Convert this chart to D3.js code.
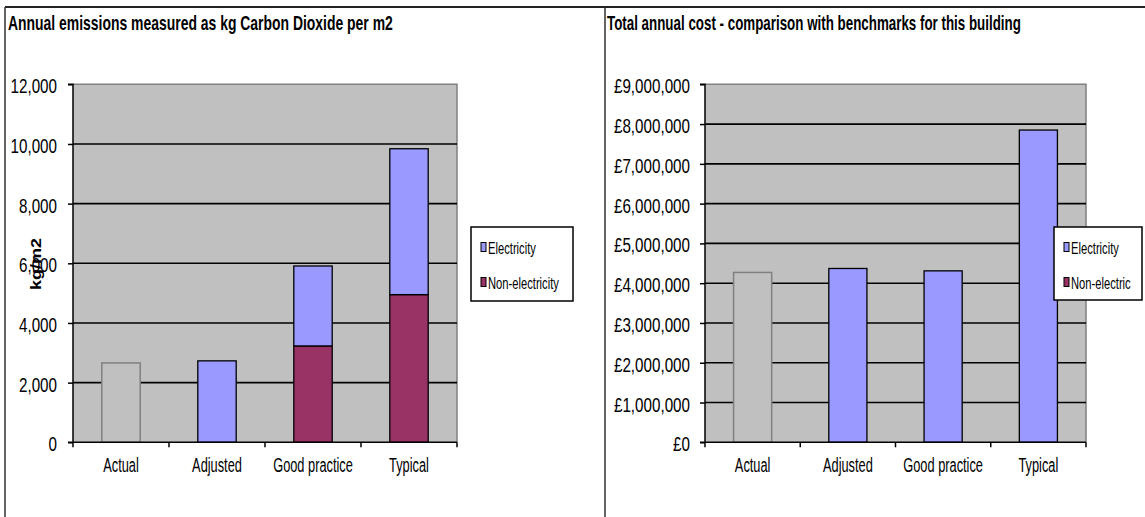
<!DOCTYPE html>
<html>
<head>
<meta charset="utf-8">
<script src="https://cdn.jsdelivr.net/npm/d3@7"></script>
<style>
  html, body { margin: 0; padding: 0; background: #fff; }
  svg { display: block; }
  text { font-family: "Liberation Sans", Arial, sans-serif; fill: #000; }
</style>
</head>
<body>
<svg id="chart" width="1145" height="517"></svg>
<script>
// Benchmark categories shared by both charts
const categories = ["Actual", "Adjusted", "Good practice", "Typical"];

// Annual CO2 emissions, kg per m2
const emissionsActual = [2660, 0, 0, 0];
const emissionsElectricity = [0, 2730, 2680, 4890];
const emissionsNonElectricity = [0, 0, 3230, 4950];
const emissionsTicks = [0, 2000, 4000, 6000, 8000, 10000, 12000];

// Total annual cost, GBP
const costActual = [4270000, 0, 0, 0];
const costElectricity = [0, 4370000, 4310000, 7850000];
const costNonElectricity = [0, 0, 0, 0];
const costTicks = [0, 1000000, 2000000, 3000000, 4000000, 5000000, 6000000, 7000000, 8000000, 9000000];

const emissionsLegend = ["Electricity", "Non-electricity"];
const costLegend = ["Electricity", "Non-electric"];

const COLORS = {
  plot: "#c0c0c0",
  actualFill: "#c0c0c0",
  actualStroke: "#808080",
  elec: "#9999ff",
  nonElec: "#993366"
};

const svg = d3.select("#chart");

// Text squeezed horizontally to give the condensed look
function scaledText(parent, x, y, str, size, sx, anchor, weight) {
  const g = parent.append("g").attr("transform", `translate(${x},${y}) scale(${sx},1)`);
  g.append("text")
    .attr("text-anchor", anchor || "start")
    .style("font-size", size + "px")
    .style("font-weight", weight || "normal")
    .text(str);
  return g;
}

// Condensed text fitted to a given width
function fittedText(parent, x, y, str, size, width, weight) {
  const g = parent.append("g");
  const t = g.append("text")
    .style("font-size", size + "px")
    .style("font-weight", weight || "normal")
    .text(str);
  const natural = t.node().getComputedTextLength();
  g.attr("transform", `translate(${x},${y}) scale(${width / natural},1)`);
  return g;
}

// Panel frames
svg.append("line").attr("x1", 5).attr("x2", 1145).attr("y1", 7).attr("y2", 7)
  .attr("stroke", "#222").attr("stroke-width", 2);
svg.append("line").attr("x1", 5).attr("x2", 5).attr("y1", 7).attr("y2", 517)
  .attr("stroke", "#333").attr("stroke-width", 1.5);
svg.append("line").attr("x1", 605).attr("x2", 605).attr("y1", 7).attr("y2", 517)
  .attr("stroke", "#333").attr("stroke-width", 1.5);

function drawPanel(cfg) {
  const g = svg.append("g");
  const y = d3.scaleLinear().domain(cfg.domain).range([cfg.y1, cfg.y0]);
  const x = d3.scaleBand().domain(categories).range([cfg.x0, cfg.x1])
    .paddingInner(0.6).paddingOuter(0.3);
  const step = x.step();

  // Title
  fittedText(g, cfg.titleX, 30, cfg.title, 21, cfg.titleLen, "bold");

  // Plot area
  g.append("rect").attr("x", cfg.x0).attr("y", cfg.y0)
    .attr("width", cfg.x1 - cfg.x0).attr("height", cfg.y1 - cfg.y0)
    .attr("fill", COLORS.plot).attr("stroke", "none");
  g.append("path")
    .attr("d", `M${cfg.x0},${cfg.y0}H${cfg.x1}V${cfg.y1}`)
    .attr("fill", "none").attr("stroke", "#808080").attr("stroke-width", 1.5);

  // Gridlines
  const inner = cfg.ticks.filter(t => t > cfg.domain[0] && t < cfg.domain[1]);
  g.selectAll(".grid").data(inner).join("line")
    .attr("x1", cfg.x0).attr("x2", cfg.x1)
    .attr("y1", d => y(d)).attr("y2", d => y(d))
    .attr("stroke", "#000").attr("stroke-width", 1.6);

  // Bars: actual series, then stacked non-electricity + electricity
  const barW = x.bandwidth();
  categories.forEach((c, i) => {
    const a = cfg.actual[i], ne = cfg.nonElec[i], el = cfg.elec[i];
    if (a > 0) {
      g.append("rect").attr("x", x(c)).attr("y", y(a))
        .attr("width", barW).attr("height", y(0) - y(a))
        .attr("fill", COLORS.actualFill).attr("stroke", COLORS.actualStroke).attr("stroke-width", 1.5);
    }
    if (ne > 0) {
      g.append("rect").attr("x", x(c)).attr("y", y(ne))
        .attr("width", barW).attr("height", y(0) - y(ne))
        .attr("fill", COLORS.nonElec).attr("stroke", "#000").attr("stroke-width", 1.3);
    }
    if (el > 0) {
      g.append("rect").attr("x", x(c)).attr("y", y(ne + el))
        .attr("width", barW).attr("height", y(ne) - y(ne + el))
        .attr("fill", COLORS.elec).attr("stroke", "#000").attr("stroke-width", 1.3);
    }
  });

  // Y axis
  const yAxis = d3.axisLeft(y).tickValues(cfg.ticks).tickSize(5).tickFormat("");
  const ya = g.append("g").attr("transform", `translate(${cfg.x0},0)`).call(yAxis);
  ya.select(".domain").attr("stroke", "#000").attr("stroke-width", 1.5)
    .attr("d", `M-5,${cfg.y0}H0V${cfg.y1}H-5`);
  ya.selectAll(".tick line").attr("stroke", "#000").attr("stroke-width", 1.5);
  cfg.ticks.forEach(t => {
    scaledText(g, cfg.labelRight, y(t) + 9, cfg.fmt(t), 19.5, 0.78, "end");
  });

  // X axis with boundary ticks between categories
  g.append("line").attr("x1", cfg.x0).attr("x2", cfg.x1)
    .attr("y1", cfg.y1).attr("y2", cfg.y1)
    .attr("stroke", "#000").attr("stroke-width", 1.5);
  d3.range(categories.length + 1).forEach(i => {
    const xx = cfg.x0 + i * step;
    g.append("line").attr("x1", xx).attr("x2", xx)
      .attr("y1", cfg.y1).attr("y2", cfg.y1 + 5)
      .attr("stroke", "#000").attr("stroke-width", 1.5);
  });
  categories.forEach(c => {
    scaledText(g, x(c) + barW / 2, 472, c, 20, 0.64, "middle");
  });

  // Legend
  const L = cfg.legend;
  g.append("rect").attr("x", L.x).attr("y", L.y).attr("width", L.w).attr("height", L.h)
    .attr("fill", "#fff").attr("stroke", "#000").attr("stroke-width", 1.5);
  const swatchColors = [COLORS.elec, COLORS.nonElec];
  cfg.legendLabels.forEach((lab, i) => {
    const cy = L.y + 20 + i * 35;
    g.append("rect").attr("x", L.x + 10).attr("y", cy - 4.5)
      .attr("width", 5).attr("height", 9)
      .attr("fill", swatchColors[i]).attr("stroke", "#000").attr("stroke-width", 1);
    scaledText(g, L.x + 17, cy + 6.5, lab, 16, 0.70, "start");
  });
}

drawPanel({
  title: "Annual emissions measured as kg Carbon Dioxide per m2",
  titleX: 8, titleLen: 385,
  x0: 73, x1: 457, y0: 84.3, y1: 442.3,
  domain: [0, 12000], ticks: emissionsTicks,
  fmt: d3.format(","), labelRight: 57,
  actual: emissionsActual, elec: emissionsElectricity, nonElec: emissionsNonElectricity,
  legend: { x: 471, y: 227, w: 102, h: 74 },
  legendLabels: emissionsLegend
});

drawPanel({
  title: "Total annual cost - comparison with benchmarks for this building",
  titleX: 607, titleLen: 414,
  x0: 705, x1: 1086, y0: 84.3, y1: 442.3,
  domain: [0, 9000000], ticks: costTicks,
  fmt: v => "£" + d3.format(",")(v), labelRight: 690,
  actual: costActual, elec: costElectricity, nonElec: costNonElectricity,
  legend: { x: 1054, y: 227, w: 88, h: 73 },
  legendLabels: costLegend
});

// Y axis title of the emissions chart
svg.append("g").attr("transform", "translate(35.5,264) rotate(-90) scale(1.2,1)")
  .append("text").attr("text-anchor", "middle").attr("dy", "0.35em")
  .style("font-size", "15px").style("font-weight", "bold")
  .text("kg/m2");
</script>
</body>
</html>
